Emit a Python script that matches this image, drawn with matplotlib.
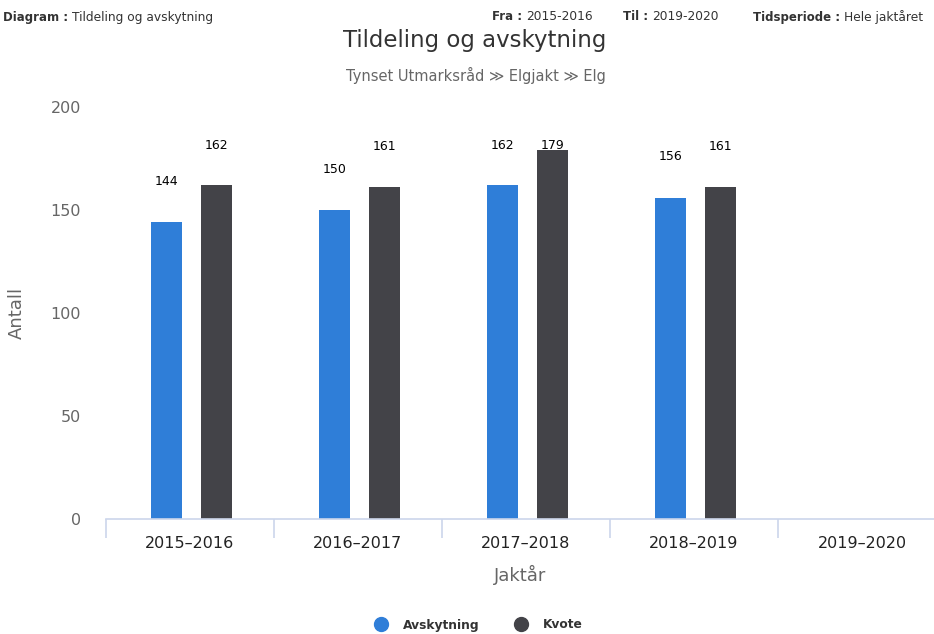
import matplotlib.pyplot as plt
from matplotlib.lines import Line2D

# data
seasons = ["2015–2016", "2016–2017", "2017–2018", "2018–2019", "2019–2020"]
avskytning = [144, 150, 162, 156, None]
kvote = [162, 161, 179, 161, None]

blue = "#2f7ed8"
dark = "#434348"
axis_col = "#ccd6eb"

plt.rcParams['font.family'] = ['DejaVu Sans']

fig = plt.figure(figsize=(9.34, 6.34), dpi=100)
W, H = 934, 634
ax = fig.add_axes([106 / W, 1 - 519 / H, (934 - 106) / W, (519 - 107) / H])

n = len(seasons)
xs = list(range(n))
off = 0.149
bw = 0.185
for i in xs:
    a = avskytning[i]
    k = kvote[i]
    if a is not None:
        ax.bar(i - off + 0.009, a, width=bw, color=blue, zorder=2)
        ax.text(i - off + 0.009, min(a + 19.8, 181.5), str(a), ha='center',
                va='center', fontsize=9, color='black')
    if k is not None:
        ax.bar(i + off + 0.009, k, width=bw, color=dark, zorder=2)
        ax.text(i + off + 0.009, min(k + 19.8, 181.5), str(k), ha='center',
                va='center', fontsize=9, color='black')

ax.set_xlim(-0.5, -0.5 + (934 - 106) / 168)
ax.set_ylim(0, 200)

for s in ['top', 'right', 'left']:
    ax.spines[s].set_visible(False)
ax.spines['bottom'].set_color(axis_col)
ax.spines['bottom'].set_linewidth(1.2)

ax.set_xticks([i - 0.5 for i in range(n)], minor=False)
ax.tick_params(axis='x', which='major', length=14, color=axis_col, width=1.2,
               labelbottom=False)
ax.set_xticks(xs, minor=True)
ax.set_xticklabels(seasons, minor=True)
ax.tick_params(axis='x', which='minor', length=0, labelsize=11.5, pad=12,
               labelcolor='#222222')

ax.set_yticks([0, 50, 100, 150, 200])
ax.tick_params(axis='y', length=0, labelsize=11.5, labelcolor='#666666', pad=18)

ax.set_ylabel("Antall", fontsize=13, color='#666666')
ax.yaxis.set_label_coords((26 - 106) / 828, 0.5)
ax.set_xlabel("Jaktår", fontsize=13, color='#666666', labelpad=10)

# titles
fig.text(475 / W, 1 - 40 / H, "Tildeling og avskytning", ha='center', va='center',
         fontsize=16.5, color='#333333')
fig.text(476 / W, 1 - 75 / H, "Tynset Utmarksråd ≫ Elgjakt ≫ Elg", ha='center',
         va='center', fontsize=10.5, color='#666666')

# header line
renderer = fig.canvas.get_renderer()
hdr = dict(va='center', color='#333333')


def pair(x_px, label, value):
    t = fig.text(x_px / W, 1 - 17 / H, label, fontweight='bold', fontsize=8.5, **hdr)
    bb = t.get_window_extent(renderer)
    fig.text((bb.x1 + 4) / W, 1 - 17 / H, value, fontsize=8.8, **hdr)


pair(3, "Diagram :", "Tildeling og avskytning")
pair(492, "Fra :", "2015-2016")
pair(623, "Til :", "2019-2020")
pair(753, "Tidsperiode :", "Hele jaktåret")

# legend
handles = [Line2D([], [], marker='o', linestyle='', markersize=10, color=blue),
           Line2D([], [], marker='o', linestyle='', markersize=10, color=dark)]
leg = fig.legend(handles, ["Avskytning", "Kvote"], loc='center',
                 bbox_to_anchor=(476 / W, 1 - 625 / H), ncol=2, frameon=False,
                 handletextpad=0.8, columnspacing=2.4,
                 prop={'weight': 'bold', 'size': 8.8})
for t in leg.get_texts():
    t.set_color('#333333')

fig.savefig("out.png", dpi=100)
